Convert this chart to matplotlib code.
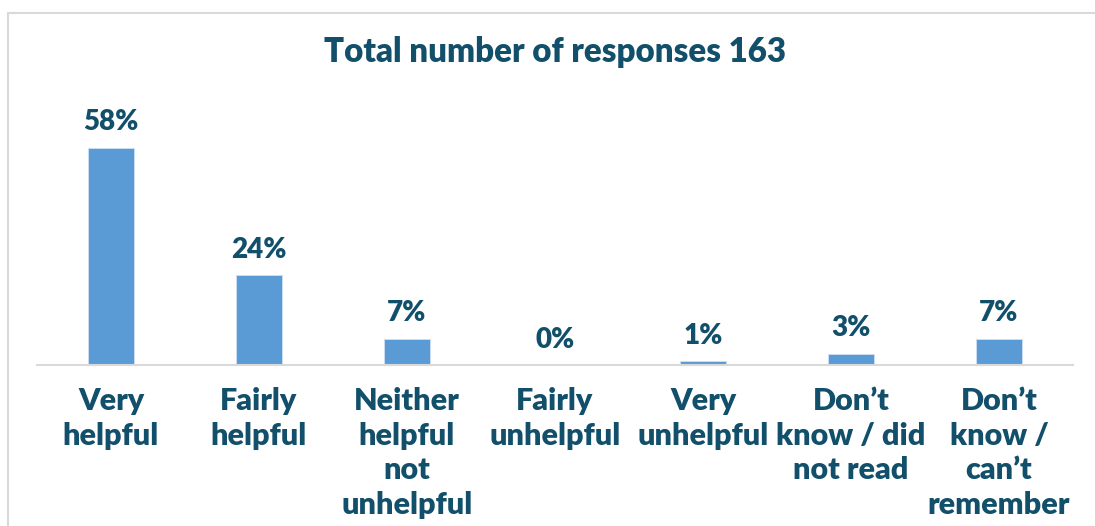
import matplotlib
matplotlib.use("Agg")
import matplotlib.pyplot as plt
from matplotlib.patches import Rectangle

# survey answers, percent of 163 responses
categories = ["Very\nhelpful", "Fairly\nhelpful", "Neither\nhelpful\nnot\nunhelpful",
              "Fairly\nunhelpful", "Very\nunhelpful", "Don\u2019t\nknow / did\nnot read",
              "Don\u2019t\nknow /\ncan\u2019t\nremember"]
percent = [58, 24, 7, 0, 1, 3, 7]
title = "Total number of responses 163"

W, H = 1095, 526
txt = "#114f6a"
bar_col = "#5b9bd5"
grey = "#d9d9d9"

plt.rcParams["font.family"] = ["Lato", "DejaVu Sans"]

fig = plt.figure(figsize=(W / 100, H / 100), dpi=100)
fig.patch.set_facecolor("white")

# outer chart frame
fig.patches.append(Rectangle((8 / W, -0.1), 1.2, (H - 13) / H + 0.1,
                             transform=fig.transFigure, fill=False,
                             edgecolor=grey, linewidth=1.5))

ax = fig.add_axes([37 / W, (H - 365) / H, 1036 / W, 262 / H])
x = range(len(categories))
ax.bar(x, percent, width=0.31, color=bar_col, edgecolor="#cfe0f3", linewidth=0.6, zorder=2)
ax.set_xlim(-0.5, len(categories) - 0.5)
ax.set_ylim(0, 70)

for i, v in enumerate(percent):
    ax.annotate(f"{v}%", (i, v), xytext=(0, 9), textcoords="offset points",
                ha="center", va="bottom", fontsize=20, fontweight="heavy", color=txt)

ax.set_xticks(list(x))
ax.set_xticklabels(categories, fontsize=22, fontweight="heavy", color=txt,
                   linespacing=1.28, va="top")
ax.tick_params(axis="x", length=0, pad=16)
ax.set_yticks([])
for s in ["top", "right", "left"]:
    ax.spines[s].set_visible(False)
ax.spines["bottom"].set_color(grey)
ax.spines["bottom"].set_linewidth(1.5)

fig.text(555 / W, 1 - 52 / H, title, ha="center", va="center",
         fontsize=23.8, fontweight="heavy", color=txt)

fig.savefig("out.png", dpi=100)
